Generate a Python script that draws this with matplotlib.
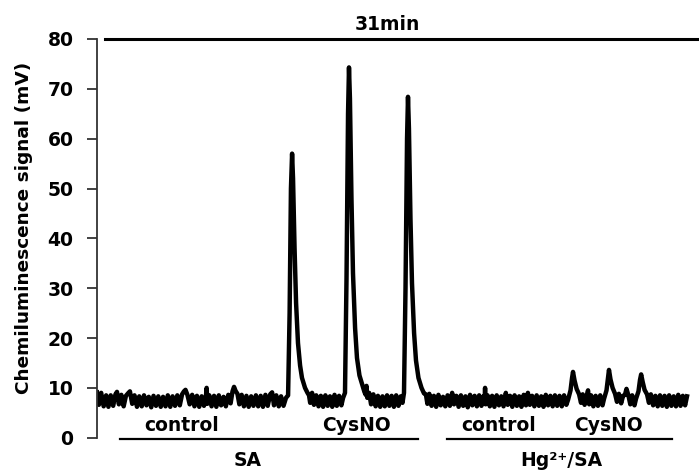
import matplotlib
matplotlib.use("Agg")
import matplotlib.pyplot as plt

# trace: (time in min, signal in mV)
sa_control = [
    (0.00, 9.1), (0.10, 6.6), (0.22, 9.0), (0.35, 6.3), (0.48, 8.5), (0.60, 6.2), (0.72, 8.5), (0.85, 6.4),
    (0.97, 8.7), (1.05, 9.2), (1.15, 6.7), (1.28, 8.6), (1.40, 6.3), (1.52, 8.4), (1.63, 8.9), (1.73, 9.3),
    (1.85, 6.8), (1.97, 8.5), (2.10, 6.2), (2.22, 8.3), (2.35, 6.3), (2.47, 8.5), (2.60, 6.5), (2.72, 8.2),
    (2.85, 6.1), (2.97, 8.4), (3.10, 6.4), (3.22, 8.3), (3.35, 6.2), (3.47, 8.2), (3.60, 6.3), (3.72, 8.5),
    (3.85, 6.2), (3.97, 8.3), (4.10, 6.4), (4.22, 8.5), (4.35, 6.5), (4.47, 8.7), (4.57, 9.3), (4.65, 9.6),
    (4.75, 8.6), (4.87, 6.7), (5.00, 8.6), (5.12, 6.3), (5.25, 8.4), (5.37, 6.2), (5.50, 8.3), (5.62, 6.4),
    (5.72, 8.1), (5.76, 10.0), (5.80, 6.8), (5.90, 8.5), (6.02, 6.3), (6.15, 8.4), (6.27, 6.2), (6.40, 8.5),
    (6.52, 6.5), (6.65, 8.2), (6.77, 6.3), (6.90, 8.6), (7.02, 6.9), (7.12, 9.3), (7.20, 10.2), (7.28, 9.4),
    (7.38, 8.8), (7.48, 6.7), (7.60, 8.6), (7.72, 6.3), (7.85, 8.4), (7.97, 6.2), (8.10, 8.3), (8.22, 6.4),
    (8.35, 8.5), (8.47, 6.3), (8.60, 8.4), (8.72, 6.2), (8.85, 8.6), (8.97, 6.4), (9.10, 8.7), (9.20, 9.1),
    (9.30, 6.5), (9.42, 8.5), (9.55, 6.3), (9.67, 8.3), (9.80, 6.4), (9.93, 8.0),
]
sa_cysno = [
    (10.04, 8.5), (10.12, 25.0), (10.19, 50.0), (10.25, 57.0), (10.30, 52.0), (10.38, 38.0), (10.46, 27.0),
    (10.56, 19.0), (10.67, 14.5), (10.77, 12.0), (10.93, 10.0), (11.06, 9.0), (11.14, 8.5),
    (11.20, 7.0), (11.30, 9.0), (11.40, 6.6), (11.52, 8.5), (11.64, 6.3), (11.76, 8.4), (11.88, 6.2),
    (12.00, 8.5), (12.12, 6.4), (12.24, 8.3), (12.36, 6.2), (12.48, 8.6), (12.60, 6.4), (12.72, 8.4),
    (12.84, 6.5), (12.93, 8.0),
    (13.03, 9.0), (13.11, 32.0), (13.19, 65.0), (13.24, 74.3), (13.29, 68.0), (13.37, 48.0), (13.45, 33.0),
    (13.56, 22.0), (13.66, 16.0), (13.79, 12.5), (13.95, 10.5), (14.05, 9.2), (14.12, 8.6), (14.16, 10.4),
    (14.20, 8.0), (14.30, 9.0), (14.40, 6.7), (14.52, 8.7), (14.64, 6.3), (14.76, 8.4), (14.88, 6.2),
    (15.00, 8.3), (15.12, 6.3), (15.24, 8.5), (15.36, 6.4), (15.48, 8.4), (15.60, 6.2), (15.72, 8.5),
    (15.84, 6.4), (15.96, 8.3), (16.05, 7.0),
    (16.13, 9.0), (16.21, 30.0), (16.29, 60.0), (16.34, 68.4), (16.39, 62.0), (16.47, 44.0), (16.55, 31.0),
    (16.66, 21.0), (16.76, 15.5), (16.89, 12.0), (17.05, 10.0), (17.18, 8.9), (17.28, 8.7), (17.36, 6.8),
    (17.46, 8.8), (17.58, 6.4),
]
hg_control = [
    (17.70, 8.4), (17.82, 6.2), (17.94, 8.6), (18.06, 6.5), (18.18, 8.2), (18.30, 6.3), (18.42, 8.5),
    (18.54, 6.4), (18.66, 9.0), (18.76, 6.7), (18.88, 8.4), (19.00, 6.2), (19.12, 8.5), (19.24, 6.4),
    (19.36, 8.3), (19.48, 6.1), (19.60, 8.6), (19.72, 6.5), (19.84, 8.4), (19.96, 6.3), (20.08, 8.5),
    (20.20, 6.4), (20.30, 8.3), (20.36, 6.9), (20.39, 10.0), (20.42, 6.7), (20.52, 8.5), (20.64, 6.3),
    (20.76, 8.4), (20.88, 6.2), (21.00, 8.5), (21.12, 6.5), (21.24, 8.3), (21.36, 6.3), (21.48, 9.0),
    (21.58, 6.6), (21.70, 8.4), (21.82, 6.2), (21.94, 8.5), (22.06, 6.4), (22.18, 8.3), (22.30, 6.2),
    (22.42, 8.6), (22.54, 6.5), (22.64, 9.0), (22.74, 6.6), (22.86, 8.4), (22.98, 6.3), (23.10, 8.5),
    (23.22, 6.4), (23.34, 8.3), (23.46, 6.2), (23.58, 8.6), (23.70, 6.5), (23.82, 8.4), (23.94, 6.3),
    (24.06, 8.5), (24.18, 6.4), (24.30, 8.4), (24.42, 6.3), (24.54, 8.5), (24.66, 6.6),
]
hg_cysno = [
    (24.75, 7.6), (24.88, 9.5), (24.96, 12.0), (25.01, 13.2), (25.09, 11.5), (25.20, 9.8), (25.33, 8.7),
    (25.43, 7.0), (25.52, 8.7), (25.62, 6.6), (25.72, 8.3), (25.80, 9.5), (25.86, 6.7), (25.96, 8.5),
    (26.08, 6.3), (26.20, 8.4), (26.32, 6.4), (26.44, 8.5), (26.56, 6.5), (26.64, 7.8),
    (26.77, 9.5), (26.85, 12.0), (26.90, 13.6), (26.98, 11.7), (27.09, 10.0), (27.22, 8.8), (27.32, 7.2),
    (27.42, 8.8), (27.54, 6.9), (27.64, 8.4), (27.74, 8.6), (27.82, 9.8), (27.92, 8.5), (28.02, 6.7),
    (28.12, 8.5), (28.24, 6.5), (28.32, 7.8),
    (28.45, 9.3), (28.53, 11.6), (28.59, 12.7), (28.67, 11.2), (28.77, 9.6), (28.90, 8.7), (29.00, 7.0),
    (29.10, 8.7), (29.22, 6.5), (29.34, 8.4), (29.46, 6.3), (29.58, 8.5), (29.70, 6.4), (29.82, 8.4),
    (29.94, 6.2), (30.06, 8.5), (30.18, 6.4), (30.30, 8.3), (30.42, 6.3), (30.54, 8.6), (30.66, 6.4),
    (30.78, 8.4), (30.90, 6.5), (31.00, 8.3),
]

# group labels (centre time in min) and the spans of the underlines
sub_labels = ["control", "CysNO", "control", "CysNO"]
sub_centers = [4.47, 13.61, 21.12, 26.90]
group_labels = ["SA", "Hg\u00b2\u207a/SA"]
group_centers = [7.93, 24.38]
group_spans = [(1.21, 16.87), (18.39, 30.22)]
run_label = "31min"
run_span = (0.42, 31.63)

trace = sa_control + sa_cysno + hg_control + hg_cysno
t = [p[0] for p in trace]
v = [p[1] for p in trace]

plt.rcParams['font.family'] = ['DejaVu Sans']
plt.rcParams['font.weight'] = 'bold'

fig = plt.figure(figsize=(6.99, 4.73), dpi=100)
ax = fig.add_axes([97 / 699, 35.3 / 473, 602 / 699, 398.7 / 473])

ax.plot(t, v, color='black', lw=3.2, solid_joinstyle='round')

ax.set_xlim(0, 31.63)
ax.set_ylim(0, 80)
ax.set_yticks(range(0, 81, 10))
ax.set_xticks([])
for s in ['top', 'right', 'bottom']:
    ax.spines[s].set_visible(False)
ax.spines['left'].set_linewidth(1.3)
ax.spines['left'].set_color('#333333')
ax.tick_params(axis='y', direction='out', length=7, width=1.3, color='#333333',
               labelsize=13.5, pad=10)
for lab in ax.get_yticklabels():
    lab.set_fontweight('bold')

ax.set_ylabel('Chemiluminescence signal (mV)', fontsize=13.3, fontweight='bold')
ax.yaxis.set_label_coords(-0.107, 0.526)

# top bar "31min"
ax.plot(run_span, [80, 80], color='black', lw=2.2, clip_on=False)
ax.text(sum(run_span) / 2 - 0.75, 83.0, run_label, ha='center', va='center',
        fontsize=13.5, fontweight='bold')

for lab, c in zip(sub_labels, sub_centers):
    ax.text(c, 2.4, lab, ha='center', va='center', fontsize=13.5, fontweight='bold')
for lab, c, (a, b) in zip(group_labels, group_centers, group_spans):
    ax.plot([a, b], [-0.26, -0.26], color='black', lw=1.6, clip_on=False)
    ax.text(c, -4.5, lab, ha='center', va='center', fontsize=13.5, fontweight='bold')

fig.savefig('out.png', dpi=100)
